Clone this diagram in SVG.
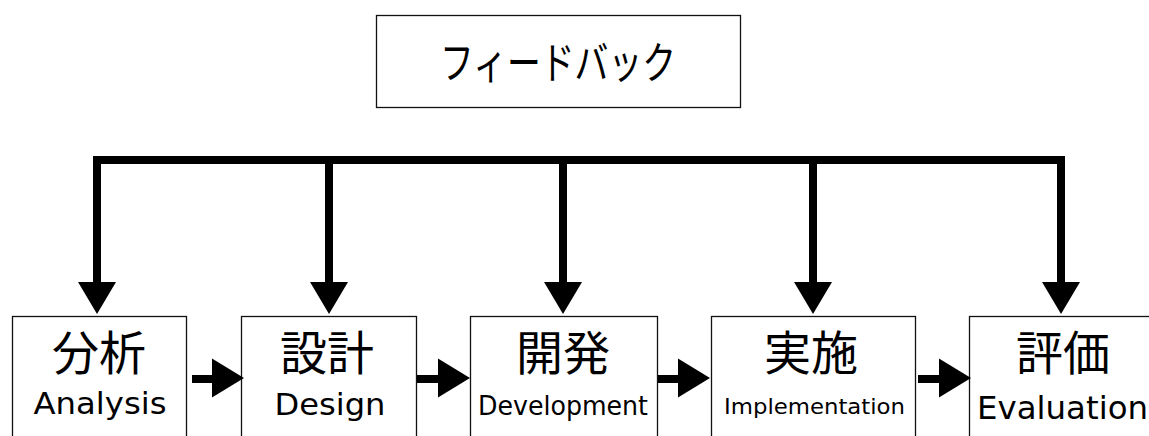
<svg xmlns="http://www.w3.org/2000/svg" width="1149" height="436" viewBox="0 0 1149 436">
<style>
.box{fill:#fff;stroke:#111;stroke-width:1.3}
.ja{font-family:"Noto Sans CJK JP","DejaVu Sans",sans-serif;font-size:47px;fill:#000;text-anchor:middle}
.en{font-family:"DejaVu Sans",sans-serif;fill:#000;text-anchor:middle}
.ln{fill:none;stroke:#000;stroke-width:8;stroke-linejoin:miter;stroke-linecap:butt}
</style>
<defs>
<polygon id="hd" points="-19,0 19,0 0,32"/>
<polygon id="hr" points="0,-19.5 0,19.5 32,0"/>
</defs>
<rect width="1149" height="436" fill="#fff"/>
<g id="feedback">
<rect class="box" x="376.5" y="15.5" width="364" height="92"/>
<text x="558" y="79" style="font-family:'Noto Sans CJK JP',sans-serif;font-size:44px;text-anchor:middle" textLength="236" lengthAdjust="spacingAndGlyphs">フィードバック</text>
</g>
<g id="analysis">
<rect class="box" x="12.5" y="316.5" width="174" height="140"/>
<text class="ja" x="99" y="370">分析</text>
<text class="en" x="100" y="413.5" font-size="30" textLength="133" lengthAdjust="spacingAndGlyphs">Analysis</text>
</g>
<g id="design">
<rect class="box" x="241.5" y="316.5" width="175" height="140"/>
<text class="ja" x="327" y="370">設計</text>
<text class="en" x="330" y="415" font-size="30" textLength="111" lengthAdjust="spacingAndGlyphs">Design</text>
</g>
<g id="development">
<rect class="box" x="470.5" y="316.5" width="187" height="140"/>
<text class="ja" x="563" y="370">開発</text>
<text class="en" x="563" y="415" font-size="26" textLength="170" lengthAdjust="spacingAndGlyphs">Development</text>
</g>
<g id="implementation">
<rect class="box" x="711.5" y="316.5" width="204" height="140"/>
<text class="ja" x="811" y="370">実施</text>
<text class="en" x="814.5" y="414" font-size="22" textLength="181" lengthAdjust="spacingAndGlyphs">Implementation</text>
</g>
<g id="evaluation">
<rect class="box" x="969.5" y="316.5" width="190" height="140"/>
<text class="ja" x="1063" y="370">評価</text>
<text class="en" x="1062.5" y="419" font-size="32" textLength="171" lengthAdjust="spacingAndGlyphs">Evaluation</text>
</g>
<g id="connectors">
<path class="ln" d="M97,283 V160 H1061 V283"/>
<path class="ln" d="M329,160 V283 M563,160 V283 M813,160 V283"/>
<use href="#hd" x="97" y="282"/>
<use href="#hd" x="329" y="282"/>
<use href="#hd" x="563" y="282"/>
<use href="#hd" x="813" y="282"/>
<use href="#hd" x="1061" y="282"/>
<path class="ln" d="M192,379 H214 M417,379 H440 M658,379 H680 M918,379 H940"/>
<use href="#hr" x="212" y="378"/>
<use href="#hr" x="438" y="378"/>
<use href="#hr" x="678" y="378"/>
<use href="#hr" x="939" y="378"/>
</g>
</svg>
